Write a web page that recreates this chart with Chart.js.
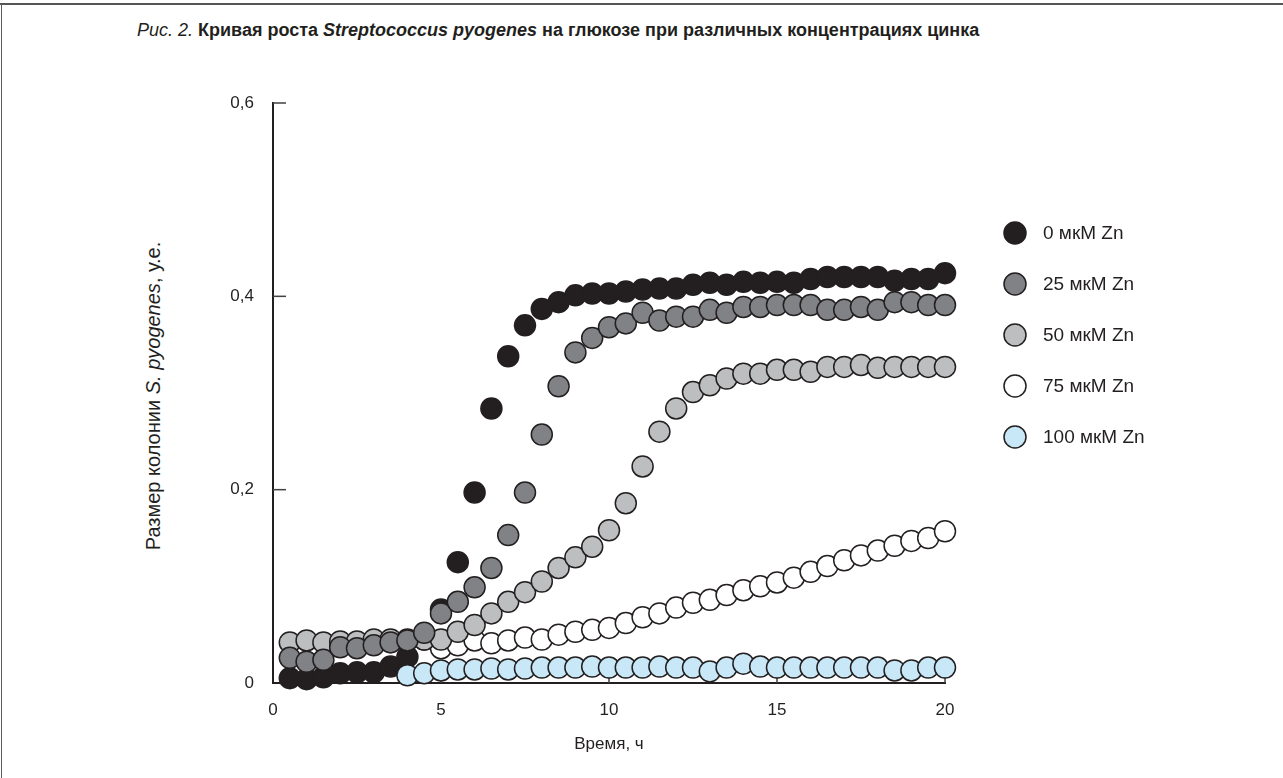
<!DOCTYPE html>
<html>
<head>
<meta charset="utf-8">
<script src="https://cdn.jsdelivr.net/npm/chart.js@4.4.0/dist/chart.umd.min.js"></script>
<style>
  html, body { margin: 0; padding: 0; background: #fff; }
  #wrap { position: relative; width: 1283px; height: 778px; overflow: hidden;
          font-family: "Liberation Sans", Arial, sans-serif; color: #231f20; }
  #frameTop { position: absolute; left: 0; top: 3px; width: 1283px; height: 2px; background: #555; }
  #frameLeft { position: absolute; left: 1px; top: 4px; width: 1px; height: 774px; background: #5b5b5b; }
  #title { position: absolute; left: 137px; top: 20px; font-size: 18px; white-space: nowrap; }
  #ytitle { position: absolute; left: 153px; top: 396px; font-size: 20px; white-space: nowrap;
            transform: translate(-50%, -50%) rotate(-90deg); }
  canvas { position: absolute; left: 0; top: 0; }
</style>
</head>
<body>
<div id="wrap">
  <div id="frameTop"></div>
  <div id="frameLeft"></div>
  <div id="title"><i>Рис. 2.</i> <b>Кривая роста <i>Streptococcus pyogenes</i> на глюкозе при различных концентрациях цинка</b></div>
  <div id="ytitle">Размер колонии <i>S. pyogenes</i>, у.е.</div>
  <canvas id="growth" width="1283" height="778"></canvas>
</div>
<script>
// time, h
const hours = [0.5, 1, 1.5, 2, 2.5, 3, 3.5, 4, 4.5, 5,
               5.5, 6, 6.5, 7, 7.5, 8, 8.5, 9, 9.5, 10,
               10.5, 11, 11.5, 12, 12.5, 13, 13.5, 14, 14.5, 15,
               15.5, 16, 16.5, 17, 17.5, 18, 18.5, 19, 19.5, 20];

// colony size, a.u.
const zn0 = [0.005, 0.004, 0.006, 0.010, 0.011, 0.011, 0.017, 0.027, 0.045, 0.076,
             0.125, 0.197, 0.284, 0.338, 0.370, 0.387, 0.394, 0.401, 0.403, 0.403,
             0.405, 0.407, 0.408, 0.408, 0.412, 0.414, 0.412, 0.415, 0.414, 0.415,
             0.414, 0.418, 0.420, 0.420, 0.420, 0.420, 0.416, 0.418, 0.418, 0.424];
const zn25 = [0.026, 0.022, 0.024, 0.037, 0.036, 0.039, 0.042, 0.044, 0.052, 0.072,
              0.084, 0.099, 0.119, 0.153, 0.197, 0.257, 0.307, 0.342, 0.357, 0.368,
              0.372, 0.383, 0.375, 0.379, 0.379, 0.386, 0.383, 0.389, 0.389, 0.391,
              0.391, 0.391, 0.386, 0.386, 0.389, 0.386, 0.394, 0.394, 0.391, 0.391];
const zn50 = [0.042, 0.044, 0.042, 0.043, 0.043, 0.045, 0.045, 0.045, 0.045, 0.045,
              0.053, 0.060, 0.072, 0.084, 0.094, 0.105, 0.119, 0.130, 0.141, 0.158,
              0.186, 0.224, 0.260, 0.284, 0.301, 0.308, 0.315, 0.320, 0.320, 0.324,
              0.324, 0.322, 0.327, 0.327, 0.329, 0.326, 0.327, 0.327, 0.327, 0.327];
const zn75 = [null, null, null, null, null, null, null, null, null, 0.036,
              0.039, 0.044, 0.041, 0.044, 0.047, 0.045, 0.050, 0.053, 0.055, 0.057,
              0.062, 0.068, 0.072, 0.078, 0.083, 0.086, 0.091, 0.096, 0.100, 0.104,
              0.109, 0.115, 0.121, 0.127, 0.132, 0.137, 0.142, 0.147, 0.150, 0.157];
const zn100 = [null, null, null, null, null, null, null, 0.008, 0.010, 0.013,
               0.014, 0.014, 0.015, 0.014, 0.015, 0.016, 0.016, 0.016, 0.017, 0.016,
               0.016, 0.016, 0.017, 0.016, 0.016, 0.012, 0.016, 0.020, 0.017, 0.016,
               0.016, 0.016, 0.016, 0.016, 0.016, 0.016, 0.013, 0.013, 0.016, 0.016];

const seriesLabels = ['0 мкМ Zn', '25 мкМ Zn', '50 мкМ Zn', '75 мкМ Zn', '100 мкМ Zn'];
const xTicks = [0, 5, 10, 15, 20];
const yTicks = [0, 0.2, 0.4, 0.6];

const ink = '#231f20';

function toPoints(values) {
  return hours.map((h, i) => ({ x: h, y: values[i] })).filter(p => p.y !== null);
}

function series(label, values, fill, order) {
  return {
    label: label,
    data: toPoints(values),
    showLine: false,
    pointRadius: 10.5,
    pointBackgroundColor: fill,
    pointBorderColor: ink,
    pointBorderWidth: 1.5,
    order: order,
    clip: false
  };
}

// small inward ticks like in the print figure
const innerTicks = {
  id: 'innerTicks',
  beforeDatasetsDraw(chart) {
    const { ctx, scales: { x, y } } = chart;
    ctx.save();
    ctx.strokeStyle = '#414042';
    ctx.lineWidth = 1.5;
    x.ticks.forEach(t => {
      if (t.value === 0) return;
      const px = x.getPixelForValue(t.value);
      ctx.beginPath();
      ctx.moveTo(px, y.bottom);
      ctx.lineTo(px, y.bottom - 6);
      ctx.stroke();
    });
    y.ticks.forEach(t => {
      if (t.value === 0) return;
      const py = y.getPixelForValue(t.value);
      ctx.beginPath();
      ctx.moveTo(x.left, py);
      ctx.lineTo(x.left + 13, py);
      ctx.stroke();
    });
    ctx.restore();
  }
};

// legend column on the right
const sideLegend = {
  id: 'sideLegend',
  afterDraw(chart) {
    const ctx = chart.ctx;
    ctx.save();
    ctx.font = '19px "Liberation Sans", Arial, sans-serif';
    ctx.textBaseline = 'middle';
    chart.data.datasets.forEach((ds, i) => {
      const cy = 233 + i * 51;
      ctx.beginPath();
      ctx.arc(1015, cy, 11, 0, Math.PI * 2);
      ctx.fillStyle = ds.pointBackgroundColor;
      ctx.fill();
      ctx.lineWidth = 1.5;
      ctx.strokeStyle = ds.pointBorderColor;
      ctx.stroke();
      ctx.fillStyle = ink;
      ctx.fillText(ds.label, 1043, cy + 1);
    });
    ctx.restore();
  }
};

new Chart(document.getElementById('growth'), {
  type: 'scatter',
  data: {
    datasets: [
      series(seriesLabels[0], zn0, ink, 3),
      series(seriesLabels[1], zn25, '#808285', 1),
      series(seriesLabels[2], zn50, '#bcbec0', 2),
      series(seriesLabels[3], zn75, '#ffffff', 4),
      series(seriesLabels[4], zn100, '#c8e8f7', 0)
    ]
  },
  options: {
    responsive: false,
    animation: false,
    events: [],
    layout: { padding: { left: 0, top: 103, right: 338, bottom: 0 } },
    plugins: {
      legend: { display: false },
      tooltip: { enabled: false }
    },
    scales: {
      x: {
        type: 'linear',
        min: 0,
        max: 20,
        afterBuildTicks: s => { s.ticks = xTicks.map(v => ({ value: v })); },
        afterFit: s => { s.height = 95; },
        grid: { display: false, drawTicks: false },
        border: { display: true, color: ink, width: 2 },
        ticks: {
          padding: 17,
          color: ink,
          font: { family: '"Liberation Sans", Arial, sans-serif', size: 17 }
        },
        title: {
          display: true,
          text: 'Время, ч',
          color: ink,
          padding: { top: 0, bottom: 23 },
          font: { family: '"Liberation Sans", Arial, sans-serif', size: 17 }
        }
      },
      y: {
        min: 0,
        max: 0.6,
        afterBuildTicks: s => { s.ticks = yTicks.map(v => ({ value: v })); },
        afterFit: s => { s.width = 273; },
        grid: { display: false, drawTicks: false },
        border: { display: true, color: ink, width: 2 },
        ticks: {
          padding: 19,
          color: ink,
          font: { family: '"Liberation Sans", Arial, sans-serif', size: 17 },
          callback: v => v === 0 ? '0' : v.toFixed(1).replace('.', ',')
        }
      }
    }
  },
  plugins: [innerTicks, sideLegend]
});
</script>
</body>
</html>
